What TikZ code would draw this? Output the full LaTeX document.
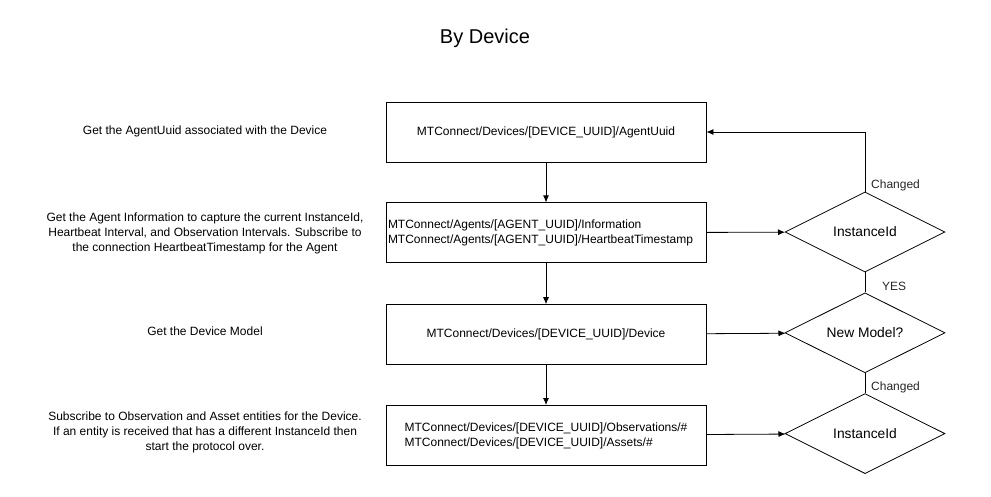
\documentclass[tikz,border=0pt]{standalone}
\usepackage{fontspec}
\setmainfont{Liberation Sans}
\usetikzlibrary{shapes.geometric, positioning, arrows.meta}

\begin{document}
\begin{tikzpicture}[x=1pt, y=-1pt,
  topic/.style={rectangle, draw, thick, minimum width=320pt, minimum height=60pt, inner sep=1pt, font=\fontsize{12}{15}\selectfont, align=left},
  check/.style={diamond, draw, thick, aspect=2, minimum width=160pt, minimum height=80pt, inner sep=0pt, font=\fontsize{13.8}{16}\selectfont},
  note/.style={align=center, font=\fontsize{12}{15}\selectfont},
  tag/.style={font=\fontsize{12}{14}\selectfont, text=black!85, inner sep=1pt},
  flow/.style={-{Latex[length=7pt, width=6pt]}, thick}]

\useasboundingbox (0,0) rectangle (991,496);

% Title
\node[font=\fontsize{20}{24}\selectfont] (title) at (485,38) {By Device};

% Topics
\node[topic] (agentuuid) at (546,132) {MTConnect/Devices/[DEVICE\_UUID]/AgentUuid};
\node[topic, text width=316pt, below=40pt of agentuuid] (information)
{MTConnect/Agents/[AGENT\_UUID]/Information\\MTConnect/Agents/[AGENT\_UUID]/HeartbeatTimestamp};
\node[topic, below=41pt of information] (device) {MTConnect/Devices/[DEVICE\_UUID]/Device};
\node[topic, below=40pt of device] (observations)
{MTConnect/Devices/[DEVICE\_UUID]/Observations/\#\\MTConnect/Devices/[DEVICE\_UUID]/Assets/\#};

% Checks
\node[check] (instance) at (865,232) {InstanceId};
\node[check, below=20pt of instance] (model) {New Model?};
\node[check, below=20pt of model] (instancetwo) {InstanceId};

% Descriptions
\node[note] (agentuuidnote) at (205,131) {Get the AgentUuid associated with the Device};
\node[note] (informationnote) at (205,233) {Get the Agent Information to capture the current InstanceId,\\Heartbeat Interval, and Observation Intervals. Subscribe to\\the connection HeartbeatTimestamp for the Agent};
\node[note] (devicenote) at (205,331) {Get the Device Model};
\node[note] (observationsnote) at (205,432) {Subscribe to Observation and Asset entities for the Device.\\If an entity is received that has a different InstanceId then\\start the protocol over.};

% Flow
\draw[flow] (agentuuid) -- (information);
\draw[flow] (information) -- (device);
\draw[flow] (device) -- (observations);

\draw[flow] (information) -- (instance);
\draw[flow] (device) -- (model);
\draw[flow] (observations) -- (instancetwo);

\draw[flow] (instance.north) |- (agentuuid.east);
\node[tag, anchor=west] (changedone) at ([xshift=5pt, yshift=6pt] instance.north) {Changed};

\draw[thick] (model.north) -- (instance.south);
\node[tag, anchor=west] (yes) at ([xshift=16pt, yshift=6pt] model.north) {YES};

\draw[thick] (instancetwo.north) -- (model.south);
\node[tag, anchor=west] (changedtwo) at ([xshift=5pt, yshift=6pt] instancetwo.north) {Changed};

\end{tikzpicture}
\end{document}
